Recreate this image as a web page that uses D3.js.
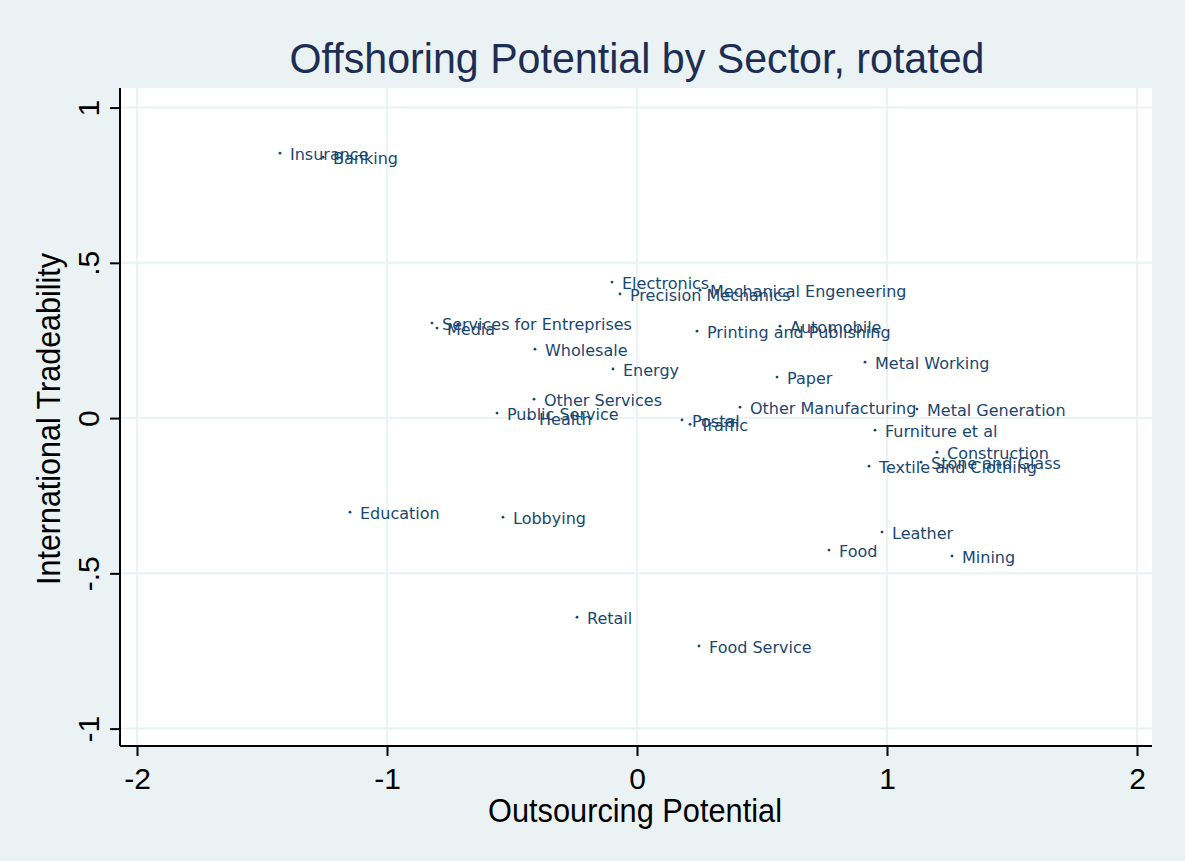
<!DOCTYPE html>
<html><head><meta charset="utf-8">
<script src="https://cdn.jsdelivr.net/npm/d3@7"></script>
<style>
html,body{margin:0;padding:0;background:#eaf2f3;}
svg{display:block;}
</style></head>
<body>
<svg id="chart" width="1185" height="861"></svg>
<script>
const sectors = ["Insurance","Banking","Electronics","Precision Mechanics","Mechanical Engeneering","Services for Entreprises","Media","Printing and Publishing","Automobile","Wholesale","Energy","Metal Working","Paper","Other Services","Public Service","Health","Other Manufacturing","Metal Generation","Postal","Traffic","Furniture et al","Construction","Stone and Glass","Textile and Clothing","Education","Lobbying","Leather","Food","Mining","Retail","Food Service"];
const outsourcing = [-1.428,-1.256,-0.100,-0.068,0.252,-0.820,-0.800,0.240,0.572,-0.408,-0.096,0.912,0.560,-0.412,-0.560,-0.432,0.412,1.120,0.180,0.212,0.952,1.200,1.136,0.928,-1.148,-0.536,0.980,0.768,1.260,-0.240,0.248];
const tradeability = [0.853,0.840,0.438,0.400,0.412,0.306,0.290,0.280,0.296,0.222,0.158,0.180,0.132,0.061,0.016,0.000,0.035,0.029,-0.006,-0.020,-0.039,-0.110,-0.142,-0.155,-0.303,-0.319,-0.367,-0.425,-0.444,-0.641,-0.734];
const xTicks = [-2,-1,0,1,2];
const yTicks = [-1,-0.5,0,0.5,1];
const yTickLabels = ["-1","-.5","0",".5","1"];

const svg = d3.select("#chart");
const W = 1185, H = 861;
const plot = {l:120, r:1152, t:88, b:746};
const x = d3.scaleLinear().domain([-2.068, 2.06]).range([plot.l, plot.r]);
const y = d3.scaleLinear().domain([-1.056, 1.063]).range([plot.b, plot.t]);

svg.append("rect").attr("width",W).attr("height",H).attr("fill","#eaf2f3");
svg.append("rect").attr("x",plot.l).attr("y",plot.t).attr("width",plot.r-plot.l).attr("height",plot.b-plot.t).attr("fill","#ffffff");

// gridlines
svg.append("g").selectAll("line").data(yTicks).join("line")
  .attr("x1",plot.l).attr("x2",plot.r).attr("y1",d=>y(d)).attr("y2",d=>y(d))
  .attr("stroke","#eaf2f3").attr("stroke-width",2);
svg.append("g").selectAll("line").data(xTicks).join("line")
  .attr("y1",plot.t).attr("y2",plot.b).attr("x1",d=>x(d)).attr("x2",d=>x(d))
  .attr("stroke","#eaf2f3").attr("stroke-width",2);

const font = "'Liberation Sans',Arial,sans-serif";

// x axis
const xAxis = d3.axisBottom(x).tickValues(xTicks).tickFormat(d=>String(d)).tickSize(10).tickPadding(12);
const gx = svg.append("g").attr("transform",`translate(0,${plot.b})`).call(xAxis);
gx.select(".domain").attr("d",`M${plot.l},0H${plot.r}`).attr("stroke","#000").attr("stroke-width",2);
gx.selectAll(".tick line").attr("stroke","#000").attr("stroke-width",2);
gx.selectAll(".tick text").attr("font-family",font).attr("font-size",30).attr("fill","#000");

// y axis
const yAxis = d3.axisLeft(y).tickValues(yTicks).tickFormat((d,i)=>yTickLabels[i]).tickSize(10).tickPadding(8);
const gy = svg.append("g").attr("transform",`translate(${plot.l},0)`).call(yAxis);
gy.select(".domain").attr("d",`M0,${plot.t}V${plot.b}`).attr("stroke","#000").attr("stroke-width",2);
gy.selectAll(".tick line").attr("stroke","#000").attr("stroke-width",2);
gy.selectAll(".tick text").attr("font-family",font).attr("font-size",30).attr("fill","#000")
  .attr("x",null).attr("dy",null).attr("y",0)
  .attr("transform","translate(-21,0) rotate(-90)").attr("text-anchor","middle");

// titles
svg.append("text").attr("x",637).attr("y",73).attr("text-anchor","middle")
  .attr("font-family",font).attr("font-size",43).attr("fill","#1e2d52")
  .attr("textLength",695).attr("lengthAdjust","spacingAndGlyphs")
  .text("Offshoring Potential by Sector, rotated");
svg.append("text").attr("x",635).attr("y",822).attr("text-anchor","middle")
  .attr("font-family",font).attr("font-size",34).attr("fill","#000")
  .attr("textLength",294).attr("lengthAdjust","spacingAndGlyphs")
  .text("Outsourcing Potential");
svg.append("text").attr("transform",`translate(60,${419}) rotate(-90)`).attr("text-anchor","middle")
  .attr("font-family",font).attr("font-size",34).attr("fill","#000")
  .attr("textLength",332).attr("lengthAdjust","spacingAndGlyphs")
  .text("International Tradeability");

// points and labels
const data = sectors.map((s,i)=>({s, x:outsourcing[i], y:tradeability[i]}));
const g = svg.append("g");
g.selectAll("circle").data(data).join("circle")
  .attr("cx",d=>x(d.x)).attr("cy",d=>y(d.y)).attr("r",1.4).attr("fill","#1a476f");
g.selectAll("text").data(data).join("text")
  .attr("x",d=>x(d.x)+10).attr("y",d=>y(d.y)+7)
  .attr("font-family","'DejaVu Sans',Verdana,sans-serif").attr("font-size",16).attr("fill","#1a476f")
  .text(d=>d.s);
</script>
</body></html>
